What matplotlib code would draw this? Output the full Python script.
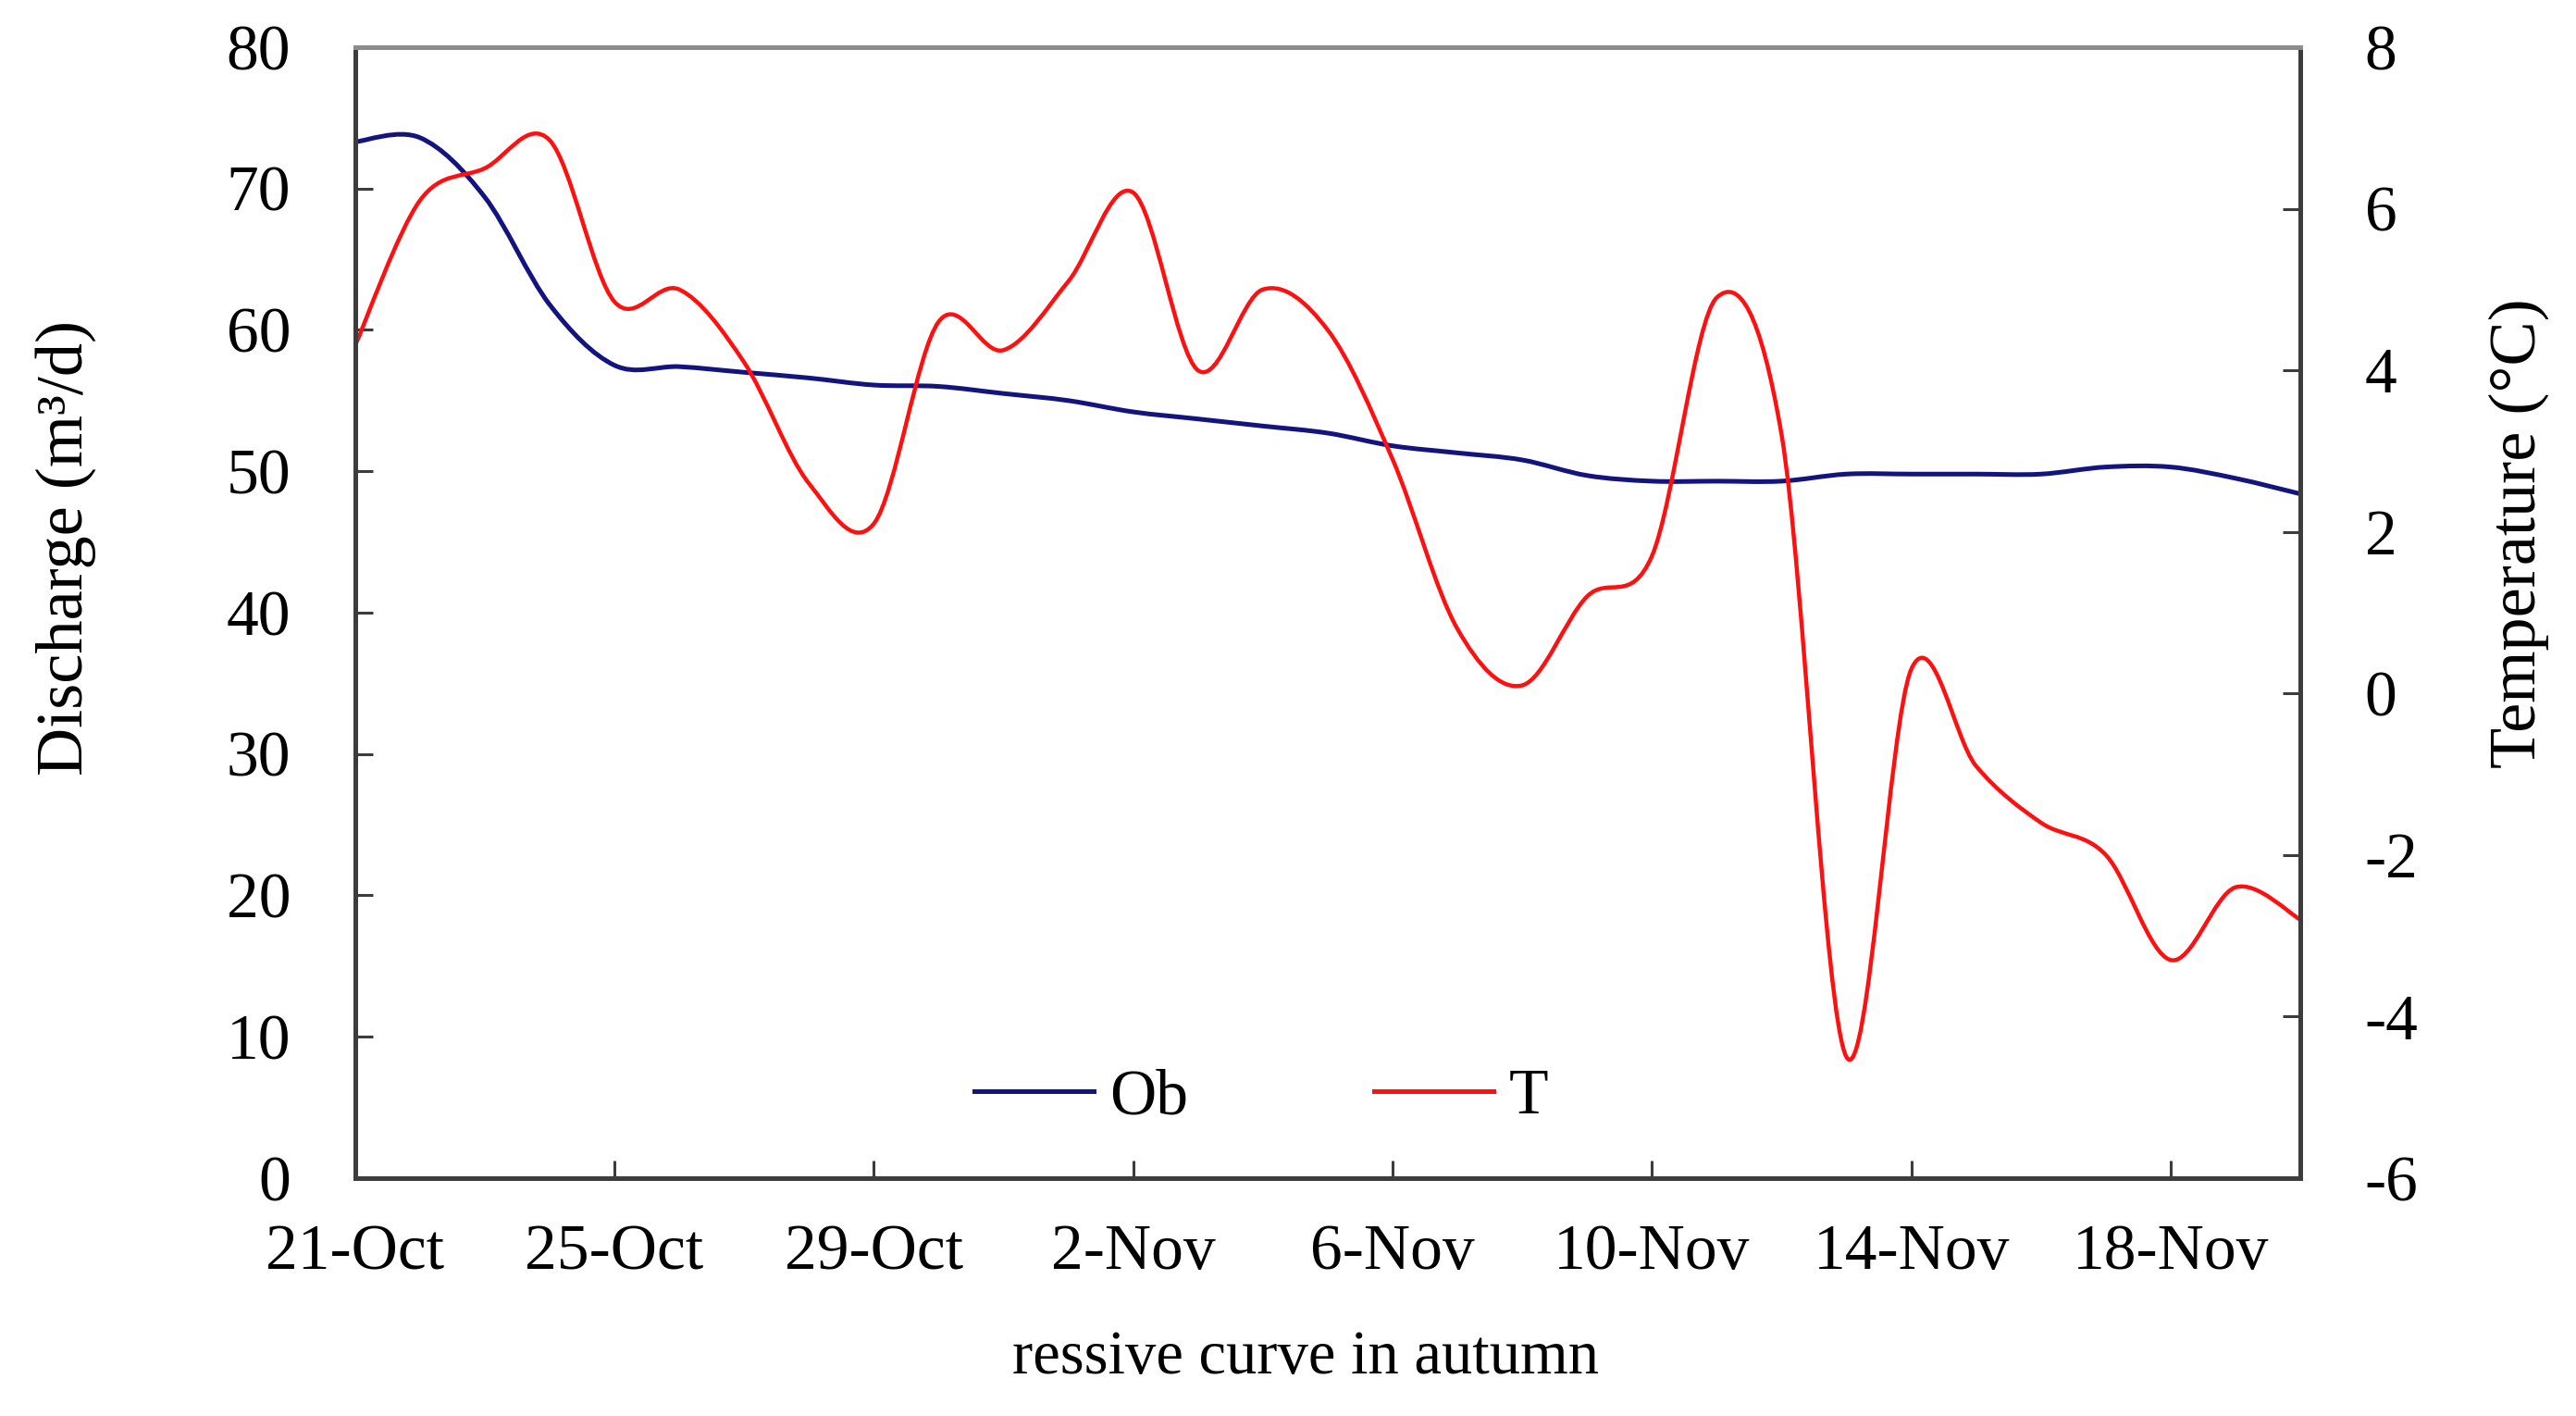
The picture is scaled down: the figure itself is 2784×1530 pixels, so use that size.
import numpy as np
import matplotlib
matplotlib.use("Agg")
import matplotlib.pyplot as plt
from matplotlib.path import Path
from matplotlib.patches import PathPatch
from matplotlib.lines import Line2D

plt.rcParams['font.family'] = ['Liberation Serif', 'DejaVu Serif']
plt.rcParams['axes.unicode_minus'] = False

# days after 21-Oct
day = np.arange(31)
ob = [73.3, 73.6, 69.4, 61.8, 57.5, 57.4, 57.0, 56.6, 56.1, 56.0, 55.5,
      55.0, 54.2, 53.7, 53.2, 52.7, 51.8, 51.3, 50.8, 49.7, 49.3,
      49.3, 49.3, 49.8, 49.8, 49.8, 49.8, 50.3, 50.3, 49.5, 48.4]
temp = [4.3, 6.1, 6.5, 6.85, 4.85, 5.0, 4.1, 2.6, 2.1, 4.6, 4.25,
        5.1, 6.2, 4.0, 5.0, 4.5, 2.9, 0.8, 0.1, 1.2, 1.7,
        4.9, 3.2, -4.5, 0.3, -0.9, -1.6, -2.0, -3.3, -2.4, -2.8]
tick_days = [0, 4, 8, 12, 16, 20, 24, 28]
tick_labels = ['21-Oct', '25-Oct', '29-Oct', '2-Nov', '6-Nov',
               '10-Nov', '14-Nov', '18-Nov']

BLUE = '#14147f'
RED = '#ff1010'
DARK = '#3c3c3c'


def smooth_path(x, y):
    # excel-like smoothed line: bezier segments through every point
    x = np.asarray(x, float)
    y = np.asarray(y, float)
    n = len(x)
    verts = [(x[0], y[0])]
    codes = [Path.MOVETO]
    for i in range(n - 1):
        i0 = max(i - 1, 0)
        i3 = min(i + 2, n - 1)
        c1 = (x[i] + (x[i + 1] - x[i0]) / 6, y[i] + (y[i + 1] - y[i0]) / 6)
        c2 = (x[i + 1] - (x[i3] - x[i]) / 6, y[i + 1] - (y[i3] - y[i]) / 6)
        verts += [c1, c2, (x[i + 1], y[i + 1])]
        codes += [Path.CURVE4] * 3
    return Path(verts, codes)


fig = plt.figure(figsize=(27.84, 15.30), dpi=100)
ax = fig.add_axes([0.1378, 0.168, 0.893 - 0.1378, 0.9667 - 0.168])
ax2 = ax.twinx()

ax.add_patch(PathPatch(smooth_path(day, ob), fill=False, edgecolor=BLUE,
                       lw=3.6, capstyle='round', joinstyle='round'))
ax2.add_patch(PathPatch(smooth_path(day, temp), fill=False, edgecolor=RED,
                        lw=3.2, capstyle='round', joinstyle='round'))

ax.set_xlim(0, 30)
ax.set_ylim(0, 80)
ax2.set_ylim(-6, 8)
ax.set_xticks(tick_days)
ax.set_xticklabels(tick_labels)
ax.set_yticks(np.arange(0, 81, 10))
ax2.set_yticks(np.arange(-6, 9, 2))

for a in (ax, ax2):
    for s in a.spines.values():
        s.set_linewidth(3.6)
        s.set_color(DARK)
    a.spines['top'].set_color('#8c8c8c')
ax.tick_params(axis='both', direction='in', length=14, width=2.2,
               color=DARK, labelsize=50)
ax.tick_params(axis='y', pad=50)
ax.tick_params(axis='x', pad=36)
ax2.tick_params(axis='y', direction='in', length=14, width=2.2,
                color=DARK, labelsize=50, pad=50)

ax.set_ylabel('Discharge (m³/d)', fontsize=52)
ax.yaxis.set_label_coords(-0.133, 0.557)
ax2.set_ylabel('Temperature (°C)', fontsize=52)
ax2.yaxis.set_label_coords(1.097, 0.570)

fig.text(0.507, 0.041, 'ressive curve in autumn', fontsize=48,
         ha='center', va='center')

handles = [Line2D([], [], color=BLUE, lw=3.6),
           Line2D([], [], color=RED, lw=3.6)]
ax2.legend(handles, ['Ob', 'T'], loc='center', bbox_to_anchor=(0.466, 0.071),
           ncol=2, frameon=False, fontsize=50, handlelength=1.85,
           handletextpad=0.25, columnspacing=2.9)

fig.savefig('out.png', dpi=100)
